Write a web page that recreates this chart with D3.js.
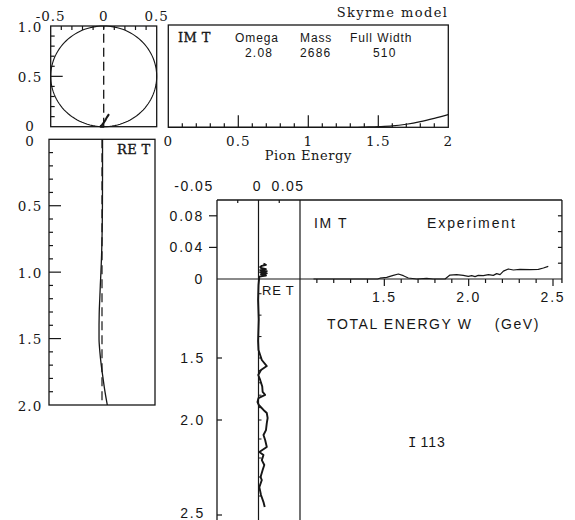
<!DOCTYPE html>
<html>
<head>
<meta charset="utf-8">
<script src="https://cdn.jsdelivr.net/npm/d3@7"></script>
<style>
  html, body { margin: 0; padding: 0; background: #fff; }
  svg { display: block; }
</style>
</head>
<body>
<svg id="fig" width="575" height="520"></svg>
<script>
// ---- Skyrme model partial-wave amplitude vs pion energy ----
const pionEnergy = [0, 0.25, 0.5, 0.75, 1.0, 1.1, 1.2, 1.3, 1.35, 1.4, 1.5, 1.6, 1.7, 1.8, 1.9, 2.0];
const modelReT   = [0.005, 0.005, 0.004, 0.0, -0.01, -0.016, -0.021, -0.026, -0.027, -0.028, -0.028, -0.02, -0.007, 0.01, 0.028, 0.05];
const modelImT   = [0, 0, 0, 0, 0, 0, 0, 0, 0, 0.002, 0.006, 0.013, 0.03, 0.055, 0.088, 0.125];

// resonance parameters printed in the header
const paramNames  = ["Omega", "Mass", "Full Width"];
const paramValues = ["2.08", "2686", "510"];

// ---- Experimental amplitude vs total energy W (GeV) ----
const expImW = [1.08, 1.2, 1.3, 1.4, 1.46, 1.474, 1.514, 1.553, 1.583, 1.613, 1.642, 1.692, 1.751, 1.79, 1.86, 1.889,
                1.929, 1.968, 1.998, 2.018, 2.038, 2.057, 2.087, 2.117, 2.146, 2.166, 2.186, 2.206, 2.235, 2.265,
                2.304, 2.364, 2.413, 2.443, 2.472];
const expImT = [0, 0, 0, 0, 0, 0.001, 0.002, 0.0046, 0.0063, 0.0042, 0.0013, 0, 0.0008, 0, 0, 0.005,
                0.0055, 0.0046, 0.0034, 0.0042, 0.003, 0.0046, 0.0042, 0.0055, 0.0046, 0.0068, 0.0055, 0.010, 0.0127, 0.0114,
                0.0122, 0.0118, 0.0122, 0.0139, 0.016];

const expReW = [1.06, 1.065, 1.07, 1.075, 1.08, 1.085, 1.09, 1.095, 1.10, 1.105, 1.11, 1.115, 1.12, 1.16, 1.23, 1.32, 1.42, 1.463,
                1.486, 1.516, 1.565, 1.597, 1.637, 1.677, 1.73, 1.774, 1.798, 1.823, 1.855, 1.879, 1.919, 1.944,
                1.984, 2.016, 2.053, 2.079, 2.105, 2.142, 2.168, 2.184, 2.211, 2.237, 2.263, 2.30, 2.316, 2.353,
                2.395, 2.432, 2.458];
const expReT = [0.006, 0.009, 0.004, 0.002, 0.003, 0.009, 0.002, 0.010, 0.002, 0.010, 0.003, 0.009, 0.001, 0.0, -0.0005, 0.0003, -0.0005, 0.0,
                0.002, 0.004, 0.010, 0.003, -0.0003, 0.002, 0.0045, 0.005, 0.008, 0.0, -0.0012, 0.0004, 0.006, 0.010,
                0.011, 0.010, 0.009, 0.006, 0.008, 0.010, 0.001, 0.006, 0.004, 0.007, 0.005, 0.0025, 0.004, 0.001,
                0.003, 0.006, 0.0075];

// tick values and labels
const argReTicks   = [-0.5, 0, 0.5];
const argReLabels  = ["-0.5", "0", "0.5"];
const imTicks      = [0, 0.5, 1.0];
const imLabels     = ["0", "0.5", "1.0"];
const energyTicks  = [0, 0.5, 1, 1.5, 2];
const energyLabels = ["0", "0.5", "1", "1.5", "2"];
const reETicks     = [0, 0.5, 1.0, 1.5, 2.0];
const reELabels    = ["0", "0.5", "1.0", "1.5", "2.0"];
const expReTicks   = [-0.05, 0, 0.05];
const expReLabels  = ["-0.05", "0", "0.05"];
const expImTicks   = [0, 0.04, 0.08];
const expImLabels  = ["0", "0.04", "0.08"];
const expWTicks    = [1.5, 2.0, 2.5];
const expWLabels   = ["1.5", "2.0", "2.5"];

// ---------------------------------------------------------------
const SERIF = "'DejaVu Serif', serif";
const SANS  = "'Liberation Sans', Arial, sans-serif";
const INK = "#161616";
const svg = d3.select("#fig");
svg.append("rect").attr("width", 575).attr("height", 520).attr("fill", "#fff");

function seg(x1, y1, x2, y2, w = 1.2, dash = null) {
  const l = svg.append("line").attr("x1", x1).attr("y1", y1).attr("x2", x2).attr("y2", y2)
    .attr("stroke", INK).attr("stroke-width", w);
  if (dash) l.attr("stroke-dasharray", dash);
  return l;
}
function label(x, y, txt, opt = {}) {
  return svg.append("text").attr("x", x).attr("y", y).text(txt)
    .attr("fill", INK)
    .attr("font-family", opt.family || SANS)
    .attr("font-size", opt.size || 14)
    .attr("font-weight", opt.weight || "normal")
    .attr("letter-spacing", opt.ls == null ? 0 : opt.ls)
    .attr("text-anchor", opt.anchor || "start");
}
function box(x0, y0, x1, y1) {
  svg.append("rect").attr("x", x0).attr("y", y0).attr("width", x1 - x0).attr("height", y1 - y0)
    .attr("fill", "none").attr("stroke", INK).attr("stroke-width", 1.3);
}
const tenths = (a, b) => d3.range(Math.round(a * 10), Math.round(b * 10) + 1).map(v => v / 10);
const isMajor = v => Math.abs(v * 2 - Math.round(v * 2)) < 1e-6;

// ===== Argand diagram (Skyrme) =====
const argX = d3.scaleLinear([-0.5, 0.5], [50.7, 156.7]);
const argY = d3.scaleLinear([0, 1], [126.7, 26]);
box(argX(-0.5), argY(1), argX(0.5), argY(0));
// left ticks
tenths(0.1, 0.9).forEach(v => seg(argX(-0.5), argY(v), argX(-0.5) + (isMajor(v) ? 12 : 4), argY(v)));
// top ticks
tenths(-0.4, 0.4).forEach(v => seg(argX(v), argY(1), argX(v), argY(1) + 4));
// unitarity circle
const circ = d3.range(0, 361, 3).map(a => {
  const t = a * Math.PI / 180;
  return [0.5 * Math.sin(t), 0.5 - 0.5 * Math.cos(t)];
});
svg.append("path").datum(circ)
  .attr("d", d3.line().x(d => argX(d[0])).y(d => argY(d[1])).curve(d3.curveLinear))
  .attr("fill", "none").attr("stroke", INK).attr("stroke-width", 1.1);
seg(argX(0), argY(0), argX(0), argY(1), 1.3, "9,5");
svg.append("path").datum(pionEnergy.map((e, i) => [modelReT[i], modelImT[i]]))
  .attr("d", d3.line().x(d => argX(d[0])).y(d => argY(d[1])).curve(d3.curveMonotoneY))
  .attr("fill", "none").attr("stroke", INK).attr("stroke-width", 2);
argReTicks.forEach((v, i) => label(argX(v), 21, argReLabels[i], { family: SERIF, size: 13.5, ls: 1, anchor: "middle" }));
imTicks.forEach((v, i) => label(30, argY(v) + (v === 0 ? 4.5 : 5.5), imLabels[i], { family: SERIF, size: 13.5, ls: 1, anchor: "middle" }));

// ===== IM T vs pion energy (Skyrme) =====
const imX = d3.scaleLinear([0, 2], [168.3, 448.3]);
const imY = d3.scaleLinear([0, 1], [127.3, 25]);
box(imX(0), imY(1), imX(2), imY(0));
tenths(0.1, 1.9).forEach(v => seg(imX(v), imY(0), imX(v), imY(0) - (isMajor(v) ? 12 : 4)));
svg.append("path").datum(pionEnergy.map((e, i) => [e, modelImT[i]]))
  .attr("d", d3.line().x(d => imX(d[0])).y(d => imY(d[1])).curve(d3.curveMonotoneX))
  .attr("fill", "none").attr("stroke", INK).attr("stroke-width", 1.2);
energyTicks.forEach((v, i) => label(imX(v), 146, energyLabels[i], { family: SERIF, size: 13.5, ls: 1, anchor: "middle" }));
label(imX(1), 160, "Pion Energy", { family: SERIF, size: 13, ls: 0.6, anchor: "middle" });
label(imX(2), 17, "Skyrme model", { family: SERIF, size: 13, ls: 1.4, anchor: "end" });
label(178, 42, "IM T", { family: SERIF, size: 13, ls: 0.4 }).attr("stroke", INK).attr("stroke-width", 0.35);
const headerX = [235, 300, 350];
const valueX  = [245, 300, 373];
paramNames.forEach((n, i) => label(headerX[i], 42, n, { size: 12, ls: 0.9 }));
paramValues.forEach((v, i) => label(valueX[i], 57, v, { size: 12, ls: 1.2 }));

// ===== RE T vs pion energy (Skyrme), energy running downward =====
const reX = d3.scaleLinear([-0.5, 0.5], [49, 155]);
const reY = d3.scaleLinear([0, 2], [139.3, 405]);
box(reX(-0.5), reY(0), reX(0.5), reY(2));
tenths(0.1, 1.9).forEach(v => seg(reX(-0.5), reY(v), reX(-0.5) + (isMajor(v) ? 12 : 4), reY(v)));
seg(reX(0), reY(0), reX(0), reY(2), 1.2, "9,5");
svg.append("path").datum(pionEnergy.map((e, i) => [modelReT[i], e]))
  .attr("d", d3.line().x(d => reX(d[0])).y(d => reY(d[1])).curve(d3.curveMonotoneY))
  .attr("fill", "none").attr("stroke", INK).attr("stroke-width", 1.3);
reETicks.forEach((v, i) => label(30, reY(v) + (v === 0 ? 6.5 : 5.5), reELabels[i], { family: SERIF, size: 13.5, ls: 1, anchor: "middle" }));
label(117, 154, "RE T", { family: SERIF, size: 13, ls: 0.4 }).attr("stroke", INK).attr("stroke-width", 0.35);

// ===== Experiment =====
const eReX = d3.scaleLinear([-0.05, 0.05], [217, 300]);
const eImY = d3.scaleLinear([0, 0.1], [279, 200]);
const eWX  = d3.scaleLinear([1.0, 2.5], [300, 553]);
const eWY  = d3.scaleLinear([1.08, 1.5, 2.0, 2.5], [268, 358, 420, 515]);
const W_END = 2.553;

// frame
seg(eReX(-0.05), eImY(0.1), eWX(W_END), eImY(0.1), 1.3);
seg(eWX(W_END), eImY(0.1), eWX(W_END), eImY(0) + 4, 1.3);
seg(eReX(-0.05), eImY(0.1), eReX(-0.05), 520, 1.3);
seg(eReX(0), eImY(0.1), eReX(0), 520, 1.2);
seg(eReX(0.05), eImY(0.1), eReX(0.05), 520, 1.2);
seg(eReX(-0.05), eImY(0), eWX(W_END), eImY(0), 1.2);

// IM T ticks
[0.04, 0.08].forEach(v => seg(eReX(-0.05) - 8, eImY(v), eReX(-0.05), eImY(v)));
[0.02, 0.04, 0.06, 0.08].forEach(v => seg(eWX(W_END), eImY(v), eWX(W_END) - 4, eImY(v)));
// W ticks along the zero line
tenths(1.1, 2.5).forEach(v => seg(eWX(v), eImY(0), eWX(v), eImY(0) + (isMajor(v) ? 7 : 4)));
// W ticks on the vertical axis
expWTicks.forEach(v => seg(eReX(-0.05), eWY(v), eReX(-0.05) + 5, eWY(v)));
tenths(1.2, 2.4).forEach(v => seg(eReX(0), eWY(v), eReX(0) + 3, eWY(v), 1));
// RE T minor ticks on the top edge
[-0.025, 0.025].forEach(v => seg(eReX(v), eImY(0.1), eReX(v), eImY(0.1) + 3));

// curves
svg.append("path").datum(expImW.map((w, i) => [w, expImT[i]]))
  .attr("d", d3.line().x(d => eWX(d[0])).y(d => eImY(d[1])).curve(d3.curveLinear))
  .attr("fill", "none").attr("stroke", INK).attr("stroke-width", 1.2).attr("stroke-linejoin", "round");
svg.append("path").datum(expReW.map((w, i) => [expReT[i], w]))
  .attr("d", d3.line().x(d => eReX(d[0])).y(d => eWY(d[1])).curve(d3.curveLinear))
  .attr("fill", "none").attr("stroke", INK).attr("stroke-width", 1.9).attr("stroke-linejoin", "round");

// labels
const reLabelNudge = [-23, -1, -12];
expReTicks.forEach((v, i) => label(eReX(v) + reLabelNudge[i], 191, expReLabels[i], { size: 14, ls: 1.5, anchor: "middle" }));
expImTicks.forEach((v, i) => label(204, eImY(v) + 5, expImLabels[i], { size: 14, ls: 1.8, anchor: "end" }));
expWTicks.forEach((v, i) => label(205, Math.min(eWY(v) + 5, 518), expWLabels[i], { size: 14, ls: 1.8, anchor: "end" }));
expWTicks.forEach((v, i) => label(eWX(v), 302, expWLabels[i], { size: 14, ls: 1.8, anchor: "middle" }));
label(327, 329, "TOTAL ENERGY W", { size: 14, ls: 1.6 });
label(540, 329, "(GeV)", { size: 14, ls: 1.6, anchor: "end" });
label(314, 228, "IM T", { size: 14, ls: 1.6 });
label(427, 228, "Experiment", { size: 14, ls: 1.9 });
label(262, 295, "RE T", { size: 13, ls: 0.8 });
const tag = label(408, 447, "", { size: 14, ls: 1 });
tag.append("tspan").attr("font-family", "'Liberation Mono', monospace").text("I");
tag.append("tspan").attr("dx", 3).text("113");
</script>
</body>
</html>
